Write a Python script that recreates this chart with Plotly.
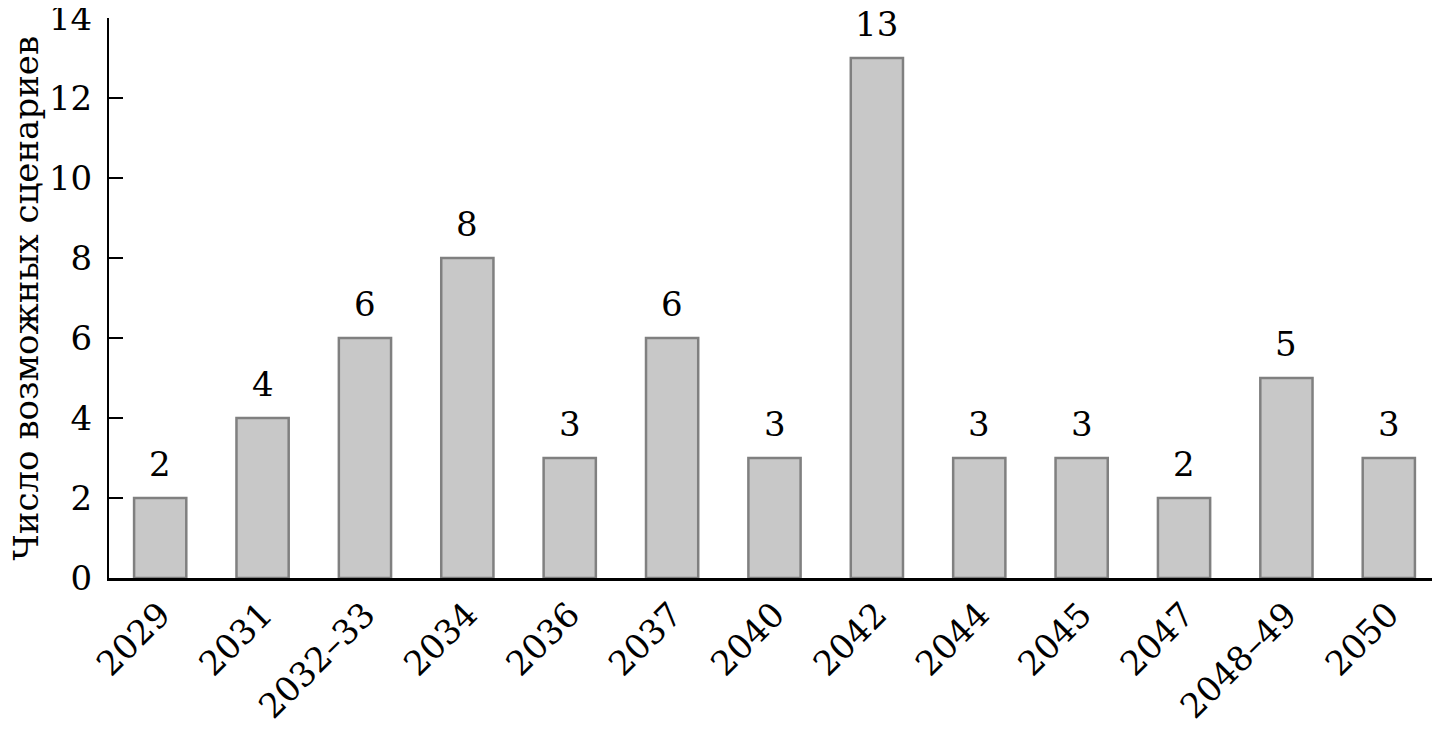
import plotly.graph_objects as go

categories = ["2029", "2031", "2032–33", "2034", "2036", "2037", "2040",
              "2042", "2044", "2045", "2047", "2048–49", "2050"]
values = [2, 4, 6, 8, 3, 6, 3, 13, 3, 3, 2, 5, 3]
y_ticks = [0, 2, 4, 6, 8, 10, 12, 14]
y_title = "Число возможных сценариев"

FONT = "DejaVu Serif"
FS = 34
font_spec = dict(family=FONT, size=FS, color="black")

fig = go.Figure()
fig.add_trace(go.Bar(
    x=categories, y=values,
    marker=dict(color="#c8c8c8", line=dict(color="#808080", width=2.5)),
    width=0.51,
))

for i, v in enumerate(values):
    fig.add_annotation(x=i, y=v, text=str(v), showarrow=False,
                       yanchor="bottom", yshift=12, font=font_spec)

fig.add_annotation(xref="paper", yref="paper", x=-0.062, y=0.5,
                   text=y_title, textangle=-90, showarrow=False,
                   xanchor="center", yanchor="middle", font=font_spec)

# page body has an 8px margin, so the figure is 8px smaller on each axis
fig.update_layout(
    width=1432, height=727,
    margin=dict(l=101, r=0, t=10, b=157),
    paper_bgcolor="white", plot_bgcolor="white",
    showlegend=False,
    font=font_spec,
    xaxis=dict(
        type="category", range=[-0.5, 12.5], automargin=False,
        showline=True, linecolor="black", linewidth=3,
        ticks="", tickangle=-45, showgrid=False, zeroline=False,
        tickfont=font_spec,
    ),
    yaxis=dict(
        range=[0, 14], tickvals=y_ticks, automargin=False,
        showline=True, linecolor="black", linewidth=2,
        ticks="inside", ticklen=14, tickwidth=2, tickcolor="black",
        showgrid=False, zeroline=False,
        ticklabelstandoff=8, ticklabeloverflow="allow",
        tickfont=font_spec,
    ),
)

fig.write_html("out.html")
